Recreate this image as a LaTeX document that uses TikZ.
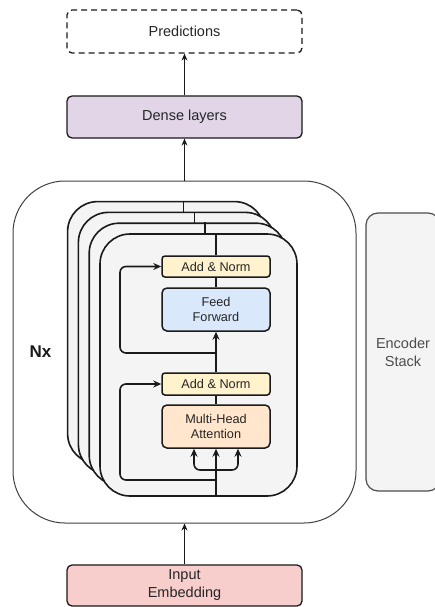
\documentclass[tikz,border=0pt]{standalone}
\usepackage{fontspec}
\setmainfont{Liberation Sans}
\usetikzlibrary{arrows.meta}
\definecolor{densefill}{HTML}{E1D5E7}
\definecolor{inputfill}{HTML}{F8CECC}
\definecolor{addfill}{HTML}{FFF2CC}
\definecolor{fffill}{HTML}{DAE8FC}
\definecolor{mhafill}{HTML}{FFE6CC}
\definecolor{layerfill}{HTML}{F4F4F4}
\definecolor{strk}{HTML}{1A1A1A}
\tikzset{
  bigbox/.style={draw=strk, line width=1.3pt, rounded corners=5pt, minimum width=235pt, align=center, font=\fontsize{14.5}{18}\selectfont, text=black!85},
  layerbox/.style={draw=strk, fill=layerfill, line width=1.6pt, rounded corners=30pt, minimum width=197pt, minimum height=262pt, inner sep=0pt},
  smallbox/.style={draw=strk, line width=1.5pt, rounded corners=3pt, minimum width=108pt, align=center, font=\fontsize{12.7}{15.5}\selectfont, text=black!85},
  thinarrow/.style={line width=1pt, draw=strk, -{Stealth[length=7pt,width=6pt]}},
  thickarrow/.style={line width=1.6pt, draw=strk, -{Stealth[length=8pt,width=7pt]}},
  thickline/.style={line width=1.6pt, draw=strk},
}
\begin{document}
\begin{tikzpicture}[x=1pt,y=-1pt]
\useasboundingbox (0,0) rectangle (434,607);
% top nodes
\node[bigbox, dashed, dash pattern=on 6pt off 4pt, minimum height=43pt] (pred) at (184.5,31.5) {Predictions};
\node[bigbox, fill=densefill, minimum height=42pt] (dense) at (184.5,117) {Dense layers};
% outer stack box
\node[draw=black!75, line width=1pt, fill=white, rounded corners=52pt, minimum width=343pt, minimum height=342pt, inner sep=0pt] (outer) at (184.5,352) {};
% encoder stack
\node[draw=black!70, fill=layerfill, line width=1.2pt, rounded corners=12pt, minimum width=74pt, minimum height=278pt, inner sep=0pt, align=center, font=\fontsize{14.5}{18}\selectfont, text=black!70] (enc) at (403,352) {Encoder\\Stack};
% Nx
\node[font=\bfseries\fontsize{17}{20}\selectfont, text=black!90] (nx) at (40.5,352) {Nx};
% layers back to front
\foreach \k in {3,2,1} {
  \node[layerbox] (L\k) at (198.5-10.8*\k, 365-10.8*\k) {};
  \draw[thickline] ([xshift=17.5pt]L\k.north) -- ([xshift=17.5pt]L\k.south);
}
\node[layerbox] (L0) at (198.5,365) {};
% inner boxes
\node[smallbox, fill=addfill, minimum height=21pt] (an1) at (216,266.5) {Add \& Norm};
\node[smallbox, fill=fffill, minimum height=43pt, rounded corners=5pt] (ff) at (216,309.5) {Feed\\Forward};
\node[smallbox, fill=addfill, minimum height=22pt] (an2) at (216,384) {Add \& Norm};
\node[smallbox, fill=mhafill, minimum height=43pt, rounded corners=5pt] (mha) at (216,426.5) {Multi-Head\\Attention};
% inner connectors
\coordinate (top0) at (L0.north -| an1.north);
\coordinate (bot0) at (L0.south -| mha.south);
\draw[thickline] (top0) -- (an1.north);
\draw[thickline] (an1.south) -- (ff.north);
\draw[thickarrow] (an2.north) -- (ff.south);
\draw[thickline] (an2.south) -- (mha.north);
\draw[thickarrow] (bot0) -- (mha.south);
\coordinate (r1) at (216,353);
\coordinate (r2) at (216,480);
\coordinate (br) at (216,470);
\draw[thickarrow, rounded corners=6pt] (r1) -- (120,353) |- (an1.west);
\draw[thickarrow, rounded corners=6pt] (r2) -- (120,480) |- (an2.west);
\draw[thickarrow, rounded corners=6pt] (br) -| ([xshift=-22pt]mha.south);
\draw[thickarrow, rounded corners=6pt] (br) -| ([xshift=22pt]mha.south);
% input
\node[bigbox, fill=inputfill, minimum height=41pt] (inp) at (184.5,585.5) {Input\\Embedding};
% outer connectors
\draw[thinarrow] (inp.north) -- (outer.south);
\draw[thinarrow] (outer.north) -- (dense.south);
\draw[thinarrow] (dense.north) -- (pred.south);
\end{tikzpicture}
\end{document}
